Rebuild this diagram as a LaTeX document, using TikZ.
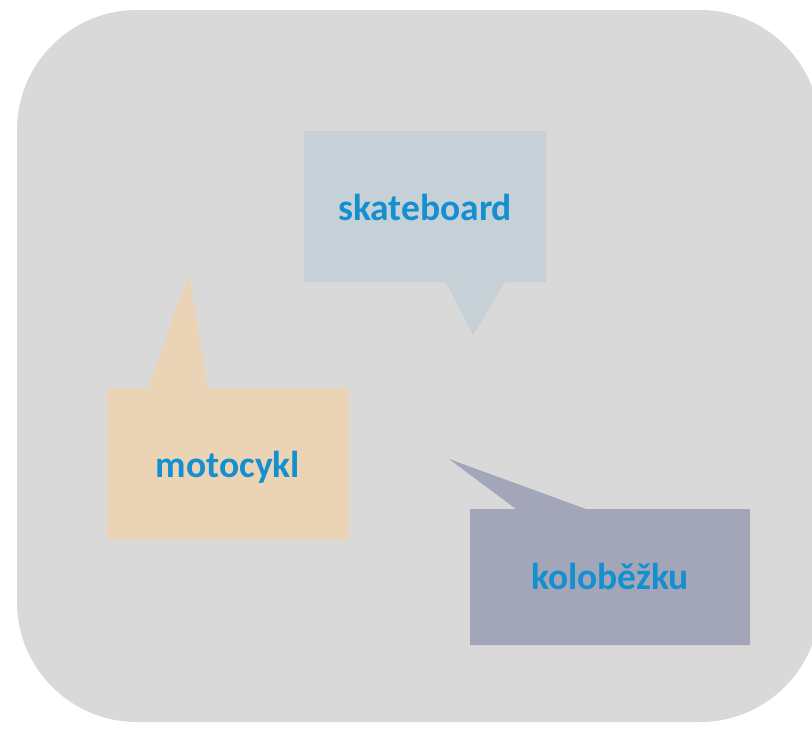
\documentclass[tikz,border=0pt]{standalone}
\usepackage{fontspec}
\setmainfont{Carlito}
\definecolor{bgc}{RGB}{217,217,217}
\definecolor{skatec}{RGB}{198,208,215}
\definecolor{motoc}{RGB}{235,211,181}
\definecolor{koloc}{RGB}{162,166,184}
\definecolor{txtc}{RGB}{20,143,208}
\tikzset{
  lbl/.style={anchor=base, text=txtc, font=\fontsize{37.5}{42}\selectfont\bfseries, inner sep=0pt},
  callout/.style={draw=none}
}
\begin{document}
\begin{tikzpicture}[x=1pt,y=-1pt]
\useasboundingbox (0,0) rectangle (812,732);
% background
\fill[bgc, rounded corners=120pt] (17,10) rectangle (820,722);
% skateboard callout
\fill[skatec] (304,131) -- (546,131) -- (546,282) -- (505,282) -- (473,335) -- (446,282) -- (304,282) -- cycle;
\node[lbl] (skate) at (425,220) {skateboard};
% motocykl callout
\fill[motoc] (107,388) -- (148,388) -- (189,274) -- (208,388) -- (349,388) -- (349,540) -- (107,540) -- cycle;
\node[lbl] (moto) at (228,477) {motocykl};
% kolobezku callout
\fill[koloc] (470,509) -- (516,509) -- (449,459) -- (586,509) -- (750,509) -- (750,645) -- (470,645) -- cycle;
\node[lbl] (kolo) at (610,589) {koloběžku};
\end{tikzpicture}
\end{document}
